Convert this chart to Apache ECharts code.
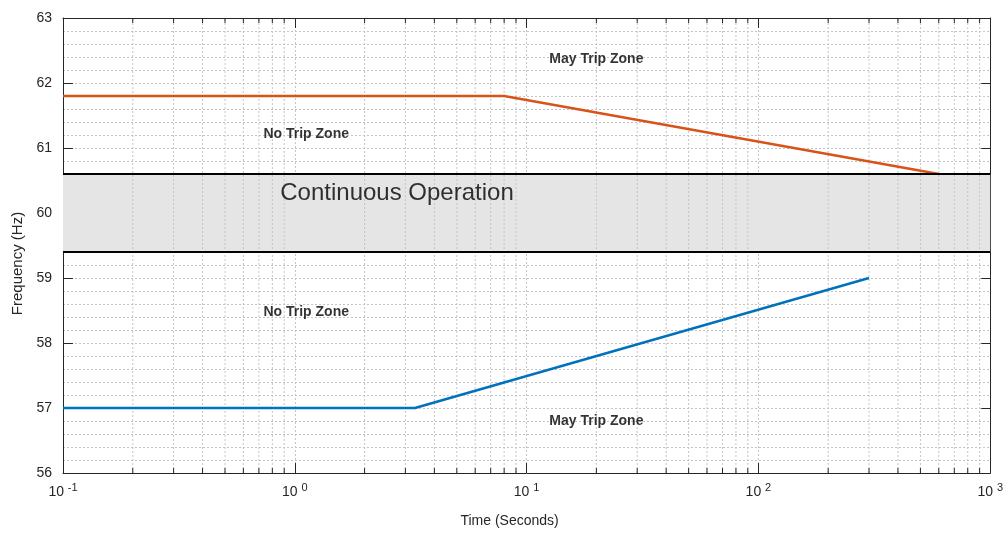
<!DOCTYPE html>
<head>
    <meta charset="UTF-8">
    <title>Frequency ride-through</title>
    <script src="https://cdn.jsdelivr.net/npm/echarts@6.0.0/dist/echarts.min.js"></script>
</head>
<body style="margin:0">
<div id="chart" style="height:534px;width:1006px;"></div>
<script type="text/javascript">

    // over-frequency boundary (seconds, Hz)
    var overTime = [0.1, 8, 600];
    var overFreq = [61.8, 61.8, 60.6];

    // under-frequency boundary
    var underTime = [0.1, 3.3, 300];
    var underFreq = [57, 57, 59];

    // continuous operation band
    var bandLow = 59.4;
    var bandHigh = 60.6;

    // minor log grid positions between the decades
    var minorTicks = [0.2, 0.3, 0.4, 0.5, 0.6, 0.7, 0.8, 0.9,
        2, 3, 4, 5, 6, 7, 8, 9,
        20, 30, 40, 50, 60, 70, 80, 90,
        200, 300, 400, 500, 600, 700, 800, 900];

    // zone annotations [time, freq, text]
    var zoneText = ['May Trip Zone', 'No Trip Zone', 'No Trip Zone', 'May Trip Zone'];
    var zoneTime = [20, 1.12, 1.12, 20];
    var zoneFreq = [62.37, 61.22, 58.48, 56.8];

    var font = "'Liberation Sans', Arial, sans-serif";
    var ink = '#262626';
    var gridLine = {show: true, lineStyle: {color: '#c4c4c4', type: [2, 2], width: 1}};

    function pair(xs, ys) {
        return xs.map(function (x, i) {
            return [x, ys[i]]
        });
    }

    var myChart = echarts.init(document.getElementById('chart'));

    myChart.setOption({
        animation: false,
        textStyle: {fontFamily: font},
        grid: {left: 63, right: 13, top: 18, bottom: 61},
        xAxis: [
            {
                type: 'log',
                logBase: 10,
                min: 0.1,
                max: 1000,
                name: 'Time (Seconds)',
                nameLocation: 'middle',
                nameGap: 41,
                nameTextStyle: {fontSize: 14, color: ink, padding: [0, 34, 0, 0]},
                axisLine: {lineStyle: {color: ink, width: 1}},
                axisTick: {inside: true, length: 10, lineStyle: {color: ink}},
                axisLabel: {
                    margin: 9,
                    color: ink,
                    showMinLabel: true,
                    showMaxLabel: true,
                    formatter: function (v) {
                        return '{b|10 }{s|' + Math.round(Math.log10(v)) + '}';
                    },
                    rich: {
                        b: {fontSize: 14, color: ink, fontFamily: font},
                        s: {fontSize: 11, color: ink, fontFamily: font, padding: [0, 0, 9, 0]}
                    }
                },
                splitLine: gridLine
            },
            {
                type: 'log',
                logBase: 10,
                min: 0.1,
                max: 1000,
                position: 'top',
                axisLine: {show: true, lineStyle: {color: ink, width: 1}},
                axisTick: {show: true, inside: true, length: 10, lineStyle: {color: ink}},
                axisLabel: {show: false},
                splitLine: {show: false}
            }
        ],
        yAxis: [
            {
                type: 'value',
                min: 56,
                max: 63,
                interval: 1,
                name: 'Frequency (Hz)',
                nameLocation: 'middle',
                nameGap: 38,
                nameTextStyle: {fontSize: 15, color: ink, padding: [0, 36, 0, 0]},
                axisLine: {show: true, lineStyle: {color: ink, width: 1}},
                axisTick: {show: true, inside: true, length: 10, lineStyle: {color: ink}},
                axisLabel: {fontSize: 14, color: ink, margin: 11},
                splitLine: gridLine,
                minorTick: {show: false, splitNumber: 5},
                minorSplitLine: gridLine
            },
            {
                type: 'value',
                min: 56,
                max: 63,
                interval: 1,
                position: 'right',
                axisLine: {show: true, lineStyle: {color: ink, width: 1}},
                axisTick: {show: true, inside: true, length: 9, lineStyle: {color: ink}},
                axisLabel: {show: false},
                splitLine: {show: false}
            }
        ],
        series: [
            {
                // minor vertical grid lines and minor ticks on the log axis
                type: 'custom',
                z: 1,
                silent: true,
                data: minorTicks.map(function (t) {
                    return [t, 56]
                }),
                renderItem: function (params, api) {
                    var t = api.value(0);
                    var bot = api.coord([t, 56]);
                    var top = api.coord([t, 63]);
                    return {
                        type: 'group',
                        children: [
                            {
                                type: 'line',
                                shape: {x1: bot[0], y1: bot[1], x2: top[0], y2: top[1]},
                                style: {stroke: '#c4c4c4', lineWidth: 1, lineDash: [2, 2]}
                            },
                            {
                                type: 'line',
                                shape: {x1: bot[0], y1: bot[1], x2: bot[0], y2: bot[1] - 5},
                                style: {stroke: ink, lineWidth: 1}
                            },
                            {
                                type: 'line',
                                shape: {x1: top[0], y1: top[1], x2: top[0], y2: top[1] + 5},
                                style: {stroke: ink, lineWidth: 1}
                            }
                        ]
                    };
                }
            },
            {
                // continuous operation band
                type: 'line',
                z: 3,
                data: [],
                silent: true,
                markArea: {
                    silent: true,
                    itemStyle: {color: '#e5e5e5', opacity: 1},
                    data: [[{yAxis: bandLow}, {yAxis: bandHigh}]]
                },
                markLine: {
                    silent: true,
                    symbol: 'none',
                    label: {show: false},
                    lineStyle: {color: '#000', width: 2, type: 'solid'},
                    data: [{yAxis: bandHigh}, {yAxis: bandLow}]
                }
            },
            {
                name: 'Over frequency',
                type: 'line',
                z: 4,
                symbol: 'none',
                lineStyle: {color: '#D95319', width: 2.5},
                data: pair(overTime, overFreq)
            },
            {
                name: 'Under frequency',
                type: 'line',
                z: 4,
                symbol: 'none',
                lineStyle: {color: '#0072BD', width: 2.5},
                data: pair(underTime, underFreq)
            },
            {
                // zone labels
                type: 'scatter',
                z: 5,
                symbolSize: 0,
                silent: true,
                data: zoneText.map(function (s, i) {
                    return {value: [zoneTime[i], zoneFreq[i]], name: s}
                }),
                label: {
                    show: true,
                    position: 'inside',
                    formatter: '{b}',
                    fontSize: 14,
                    fontWeight: 'bold',
                    color: '#000',
                    fontFamily: font
                }
            },
            {
                type: 'scatter',
                z: 5,
                symbolSize: 0,
                silent: true,
                data: [{value: [2.76, 60.3], name: 'Continuous Operation'}],
                label: {
                    show: true,
                    position: 'inside',
                    formatter: '{b}',
                    fontSize: 24,
                    color: '#000',
                    fontFamily: font
                }
            }
        ]
    });
</script>
</body>
</html>
